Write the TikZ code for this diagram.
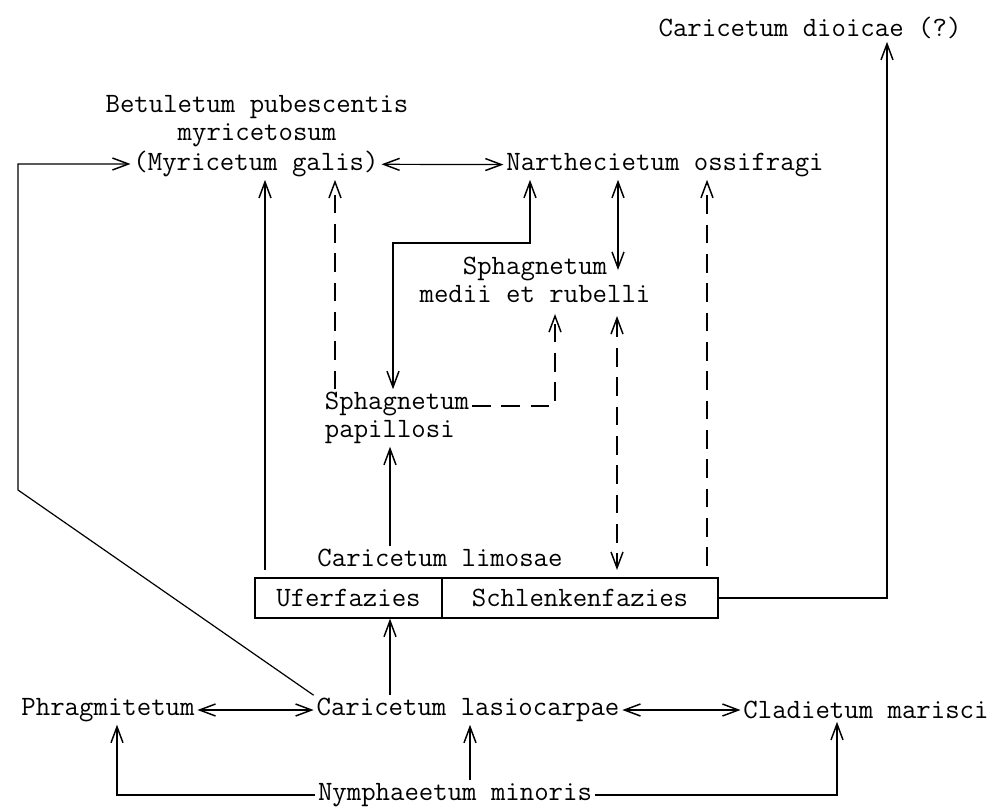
\documentclass[tikz,border=0pt]{standalone}
\usepackage{fontspec}
\usetikzlibrary{arrows.meta}

\tikzset{
  lbl/.style={font=\ttfamily\fontsize{21}{21}\selectfont, inner sep=2pt},
  facies/.style={lbl, draw, line width=1pt, minimum height=30pt, inner sep=0pt},
  conn/.style={line width=0.9pt, >={Straight Barb[length=12pt,width=9pt,line width=1.1pt]}},
  dsh/.style={conn, dash pattern=on 14pt off 8pt},
}

\begin{document}
\begin{tikzpicture}[x=0.75pt,y=-0.75pt]
  \useasboundingbox (0,0) rectangle (998,809);

  % communities
  \node[lbl] (dioi) at (810,28) {Caricetum dioicae (?)};
  \node[lbl, align=center] (betu) at (257,121) {Betuletum pubescentis\\myricetosum};
  \node[lbl] (myri) at (256,164) {(Myricetum galis)};
  \node[lbl] (narth) at (665,165) {Narthecietum ossifragi};
  \node[lbl, align=center] (medii) at (535,280) {Sphagnetum\\medii et rubelli};
  \node[lbl, align=left, anchor=west] (papi) at (322,418) {Sphagnetum\\papillosi};
  \node[lbl] (limo) at (440,558) {Caricetum limosae};
  \node[facies, minimum width=140.25pt] (ufer) at (348.5,598) {Uferfazies};
  \node[facies, minimum width=207pt] (schl) at (580,598) {Schlenkenfazies};
  \node[lbl] (phrag) at (108,710) {Phragmitetum};
  \node[lbl] (lasio) at (468,710) {Caricetum lasiocarpae};
  \node[lbl] (clad) at (866,710) {Cladietum marisci};
  \node[lbl] (nymph) at (455,795) {Nymphaeetum minoris};

  % bottom row
  \draw[conn,<->] (phrag) -- (lasio);
  \draw[conn,<->] (lasio) -- (clad);
  \draw[conn,->] (nymph.west) -- (117,0 |- nymph.west) -- (117,0 |- phrag.south);
  \draw[conn,->] (470,0 |- nymph.north) -- (470,0 |- lasio.south);
  \draw[conn,->] (nymph.east) -- (837,0 |- nymph.east) -- (837,0 |- clad.south);
  \draw[conn,->] (390,0 |- lasio.north) -- (390,0 |- ufer.south);
  \draw[conn,->] (lasio.north west) -- (18,490) -- (18,0 |- myri.west) -- (myri.west);

  % upper part
  \draw[conn,->] (265,0 |- limo.south) -- (265,0 |- myri.south);
  \draw[dsh,->] (335,0 |- papi.north) -- (335,0 |- myri.south);
  \draw[conn,->] (390,0 |- limo.north) -- (390,0 |- papi.south);
  \draw[conn,<->] (530,0 |- narth.south) -- (530,243) -- (393,243) -- (393,0 |- papi.north);
  \draw[dsh,->] ([yshift=9pt]papi.east) -- (555,406) -- (555,314);
  \draw[conn,<->] (618,0 |- narth.south) -- (618,270);
  \draw[dsh,<->] (617,316) -- (617,570);
  \draw[dsh,->] (707,566) -- (707,0 |- narth.south);
  \draw[conn,->] (schl.east) -- (887,0 |- schl.east) -- (887,0 |- dioi.south);
  \draw[conn,<->] (myri) -- (narth);
\end{tikzpicture}
\end{document}
